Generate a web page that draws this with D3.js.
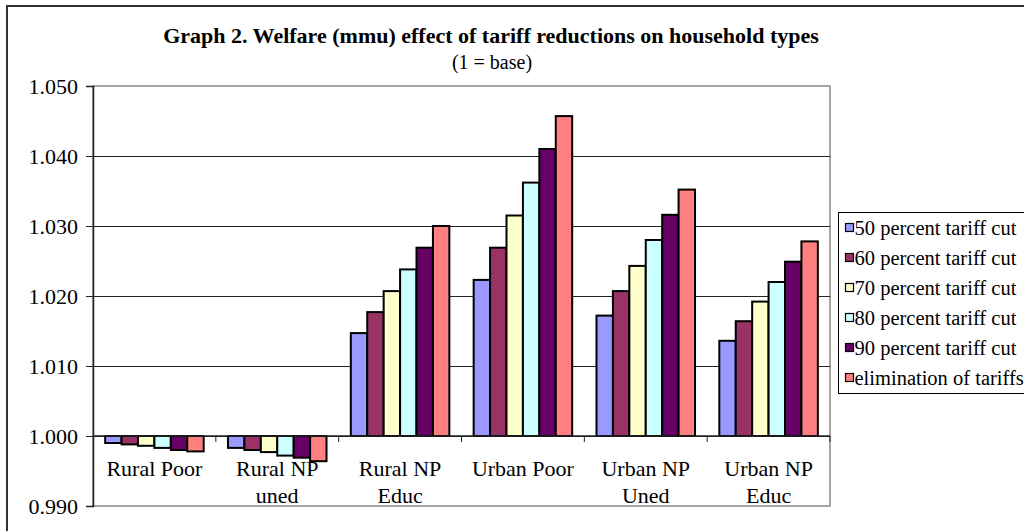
<!DOCTYPE html>
<html>
<head>
<meta charset="utf-8">
<script src="https://cdn.jsdelivr.net/npm/d3@7/dist/d3.min.js"></script>
<style>
  html, body { margin: 0; padding: 0; background: #fff; }
  svg { display: block; }
</style>
</head>
<body>
<svg id="chart" width="1024" height="531"></svg>
<script>
// Household types (category axis), with line breaks for the labels
const categories = ["Rural Poor", "Rural NP uned", "Rural NP Educ", "Urban Poor", "Urban NP Uned", "Urban NP Educ"];
const categoryLines = [["Rural Poor"], ["Rural NP", "uned"], ["Rural NP", "Educ"], ["Urban Poor"], ["Urban NP", "Uned"], ["Urban NP", "Educ"]];

// Scenario names
const seriesNames = ["50 percent tariff cut", "60 percent tariff cut", "70 percent tariff cut", "80 percent tariff cut", "90 percent tariff cut", "elimination of tariffs"];

// Welfare index (1 = base) per household type
const cut50 = [0.9990, 0.9983, 1.0147, 1.0223, 1.0172, 1.0136];
const cut60 = [0.9988, 0.9980, 1.0177, 1.0269, 1.0207, 1.0164];
const cut70 = [0.9986, 0.9977, 1.0207, 1.0315, 1.0243, 1.0192];
const cut80 = [0.9983, 0.9972, 1.0238, 1.0362, 1.0280, 1.0220];
const cut90 = [0.9980, 0.9969, 1.0269, 1.0410, 1.0316, 1.0249];
const elimination = [0.9978, 0.9964, 1.0300, 1.0457, 1.0352, 1.0278];

const yTicks = [0.990, 1.000, 1.010, 1.020, 1.030, 1.040, 1.050];
const colors = ["#9999FF", "#993366", "#FFFFCC", "#CCFFFF", "#660066", "#FF8080"];

const FONT = "Liberation Serif";

const seriesValues = [cut50, cut60, cut70, cut80, cut90, elimination];
const series = seriesNames.map((name, i) => ({ name, color: colors[i], values: seriesValues[i] }));

const svg = d3.select("#chart");

// Chart frame
svg.append("rect")
  .attr("x", 7).attr("y", 6).attr("width", 1040).attr("height", 560)
  .attr("fill", "#fff").attr("stroke", "#333").attr("stroke-width", 2);

// Title
svg.append("text")
  .attr("x", 491).attr("y", 43)
  .attr("text-anchor", "middle")
  .attr("font-family", FONT).attr("font-size", 22).attr("font-weight", "bold")
  .text("Graph 2. Welfare (mmu) effect of tariff reductions on household types");
svg.append("text")
  .attr("x", 492).attr("y", 69)
  .attr("text-anchor", "middle")
  .attr("font-family", FONT).attr("font-size", 20)
  .text("(1 = base)");

const plot = { left: 93, right: 830, top: 86, bottom: 506 };

const x = d3.scaleBand().domain(categories).range([plot.left, plot.right]).padding(0);
const xInner = d3.scaleBand().domain(seriesNames).range([0, x.bandwidth()]).paddingInner(0).paddingOuter(0.74);
const y = d3.scaleLinear().domain([0.99, 1.05]).range([plot.bottom, plot.top]);

// Plot area border
svg.append("rect")
  .attr("x", plot.left).attr("y", plot.top)
  .attr("width", plot.right - plot.left).attr("height", plot.bottom - plot.top)
  .attr("fill", "none").attr("stroke", "#888").attr("stroke-width", 1.5);

// Gridlines
svg.append("g")
  .selectAll("line")
  .data(yTicks.filter(t => t > 0.99 && t < 1.05))
  .join("line")
  .attr("x1", plot.left).attr("x2", plot.right)
  .attr("y1", d => Math.round(y(d)) + 0.5).attr("y2", d => Math.round(y(d)) + 0.5)
  .attr("stroke", "#222").attr("stroke-width", 1);

// Y axis
const yAxis = svg.append("g")
  .attr("transform", `translate(${plot.left},0)`)
  .call(d3.axisLeft(y).tickValues(yTicks).tickFormat(d3.format(".3f")).tickSize(7).tickPadding(8));
yAxis.select(".domain").attr("stroke", "#222").attr("stroke-width", 1.5);
yAxis.selectAll(".tick line").attr("stroke", "#222");
yAxis.selectAll(".tick text")
  .attr("font-family", FONT).attr("font-size", 22).attr("fill", "#000");
yAxis.attr("font-family", FONT).attr("font-size", 22);

// Bars
const groups = svg.append("g")
  .selectAll("g")
  .data(series)
  .join("g")
  .attr("fill", d => d.color);

groups.selectAll("rect")
  .data(d => d.values.map((v, i) => ({ name: d.name, cat: categories[i], v })))
  .join("rect")
  .attr("x", d => x(d.cat) + xInner(d.name))
  .attr("width", xInner.bandwidth())
  .attr("y", d => Math.min(y(d.v), y(1)))
  .attr("height", d => Math.abs(y(d.v) - y(1)))
  .attr("stroke", "#000").attr("stroke-width", 2);

// Category axis at 1.000
const base = y(1);
svg.append("line")
  .attr("x1", plot.left).attr("x2", plot.right)
  .attr("y1", base).attr("y2", base)
  .attr("stroke", "#222").attr("stroke-width", 1.5);
svg.append("g")
  .selectAll("line")
  .data(categories)
  .join("line")
  .attr("x1", d => x(d) + x.bandwidth()).attr("x2", d => x(d) + x.bandwidth())
  .attr("y1", base).attr("y2", base + 6)
  .attr("stroke", "#222").attr("stroke-width", 1);

const catLabels = svg.append("g")
  .selectAll("text")
  .data(categories)
  .join("text")
  .attr("text-anchor", "middle")
  .attr("x", d => x(d) + x.bandwidth() / 2)
  .attr("y", 476)
  .attr("font-family", FONT).attr("font-size", 22);
catLabels.selectAll("tspan")
  .data((d, i) => categoryLines[i])
  .join("tspan")
  .attr("x", function () { return d3.select(this.parentNode).attr("x"); })
  .attr("dy", (d, i) => i === 0 ? 0 : 27)
  .text(d => d);

// Legend
const legend = svg.append("g");
legend.append("rect")
  .attr("x", 838.5).attr("y", 212.5).attr("width", 200).attr("height", 181)
  .attr("fill", "#fff").attr("stroke", "#000").attr("stroke-width", 1);
const items = legend.selectAll("g.item")
  .data(series)
  .join("g")
  .attr("class", "item")
  .attr("transform", (d, i) => `translate(845,${228 + i * 30})`);
items.append("rect")
  .attr("x", 0.5).attr("y", -4.5).attr("width", 8).attr("height", 8)
  .attr("fill", d => d.color).attr("stroke", "#000").attr("stroke-width", 1.2);
items.append("text")
  .attr("x", 9.5).attr("y", 7)
  .attr("font-family", FONT).attr("font-size", 20.5)
  .text(d => d.name);
</script>
</body>
</html>
